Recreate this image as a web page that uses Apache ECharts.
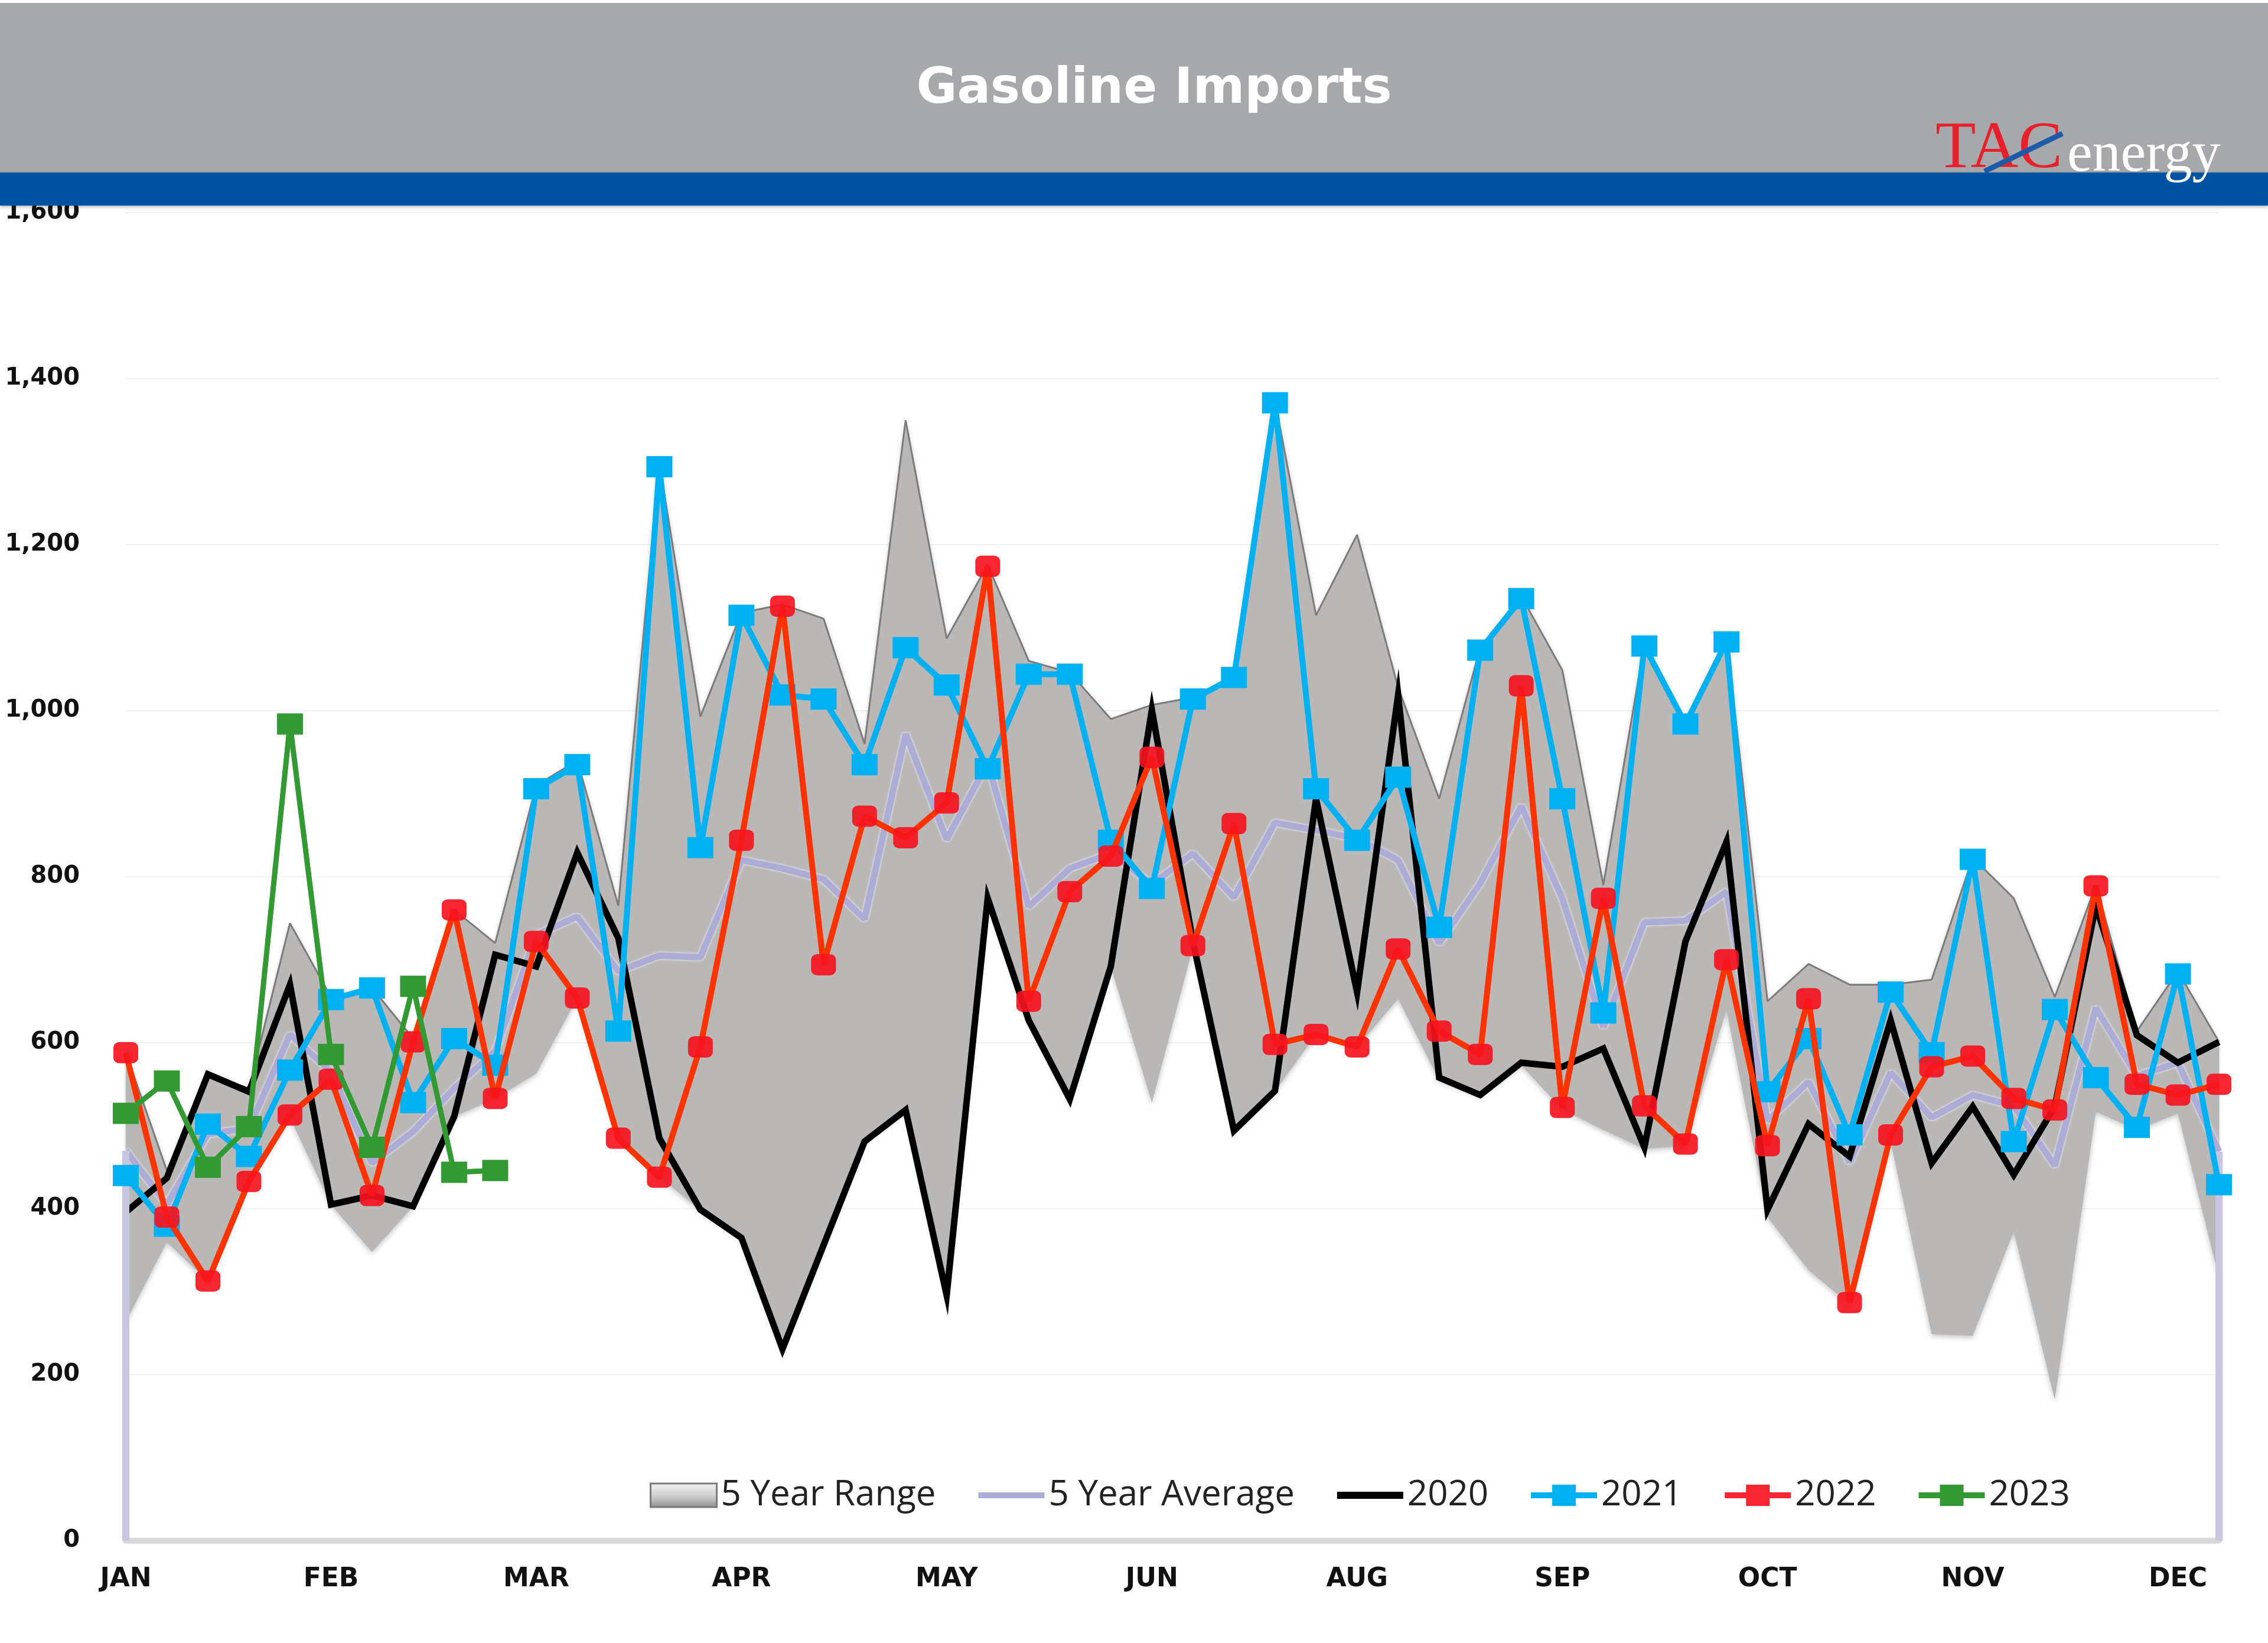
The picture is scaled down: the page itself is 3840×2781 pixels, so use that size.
<!DOCTYPE html>
<html>
<head>
<meta charset="utf-8">
<script src="https://cdn.jsdelivr.net/npm/echarts@6/dist/echarts.min.js"></script>
<style>html,body{margin:0;padding:0;background:#fff}#c{width:3840px;height:2781px}</style>
</head>
<body>
<div id="c"></div>
<script>
// ---- data (weekly, thousand b/d) ----
const monthTicks = ['JAN','FEB','MAR','APR','MAY','JUN','AUG','SEP','OCT','NOV','DEC'];
const weeks = Array.from({length: 52}, (_, i) => i + 1);
const yTicks = [0, 200, 400, 600, 800, 1000, 1200, 1400, 1600];

const range5Min = [264,360,313,433,510,405,348,403,511,533,
  563,654,485,438,399,365,231,356,481,519,
  296,774,627,532,692,528,715,494,542,610,
  595,653,555,537,573,520,495,472,476,640,
  390,326,285,481,249,247,373,170,517,495,
  515,317];
const range5Max = [588,446,562,545,744,655,666,605,760,720,
  910,940,765,1298,993,1118,1128,1111,960,1350,
  1087,1176,1060,1046,990,1007,1016,1042,1373,1115,
  1212,1028,894,1076,1138,1049,790,1080,988,1088,
  650,695,670,670,676,823,774,655,790,614,
  686,601];
const avg5 = [470,405,490,497,610,565,455,493,545,590,
  730,752,686,705,703,820,810,797,749,972,
  845,937,764,810,828,791,828,775,865,856,
  846,820,720,792,885,774,619,745,747,782,
  506,553,456,564,510,537,524,452,642,560,
  576,469];
const y2020 = [396,437,562,541,670,405,416,403,511,706,
  692,829,726,485,399,365,231,356,481,519,
  296,774,627,532,692,1001,722,494,542,894,
  661,1019,558,537,576,571,593,474,722,842,
  399,502,463,627,455,523,441,523,765,609,
  576,601];
const y2021 = [440,379,502,463,567,652,666,528,605,573,
  906,935,614,1294,835,1115,1019,1014,935,1076,
  1031,930,1044,1044,844,786,1014,1040,1371,906,
  844,920,739,1073,1135,894,636,1078,984,1083,
  541,605,489,661,588,821,481,640,558,498,
  683,429];
const y2022 = [588,390,313,433,513,556,416,601,760,533,
  722,654,485,438,595,844,1126,694,873,847,
  889,1174,650,782,825,944,717,864,598,610,
  595,713,614,586,1030,522,774,524,478,700,
  476,653,287,489,571,584,533,519,789,550,
  537,550];
const y2023 = [515,554,450,499,984,586,474,668,444,446];

// ---- chart ----
const chart = echarts.init(document.getElementById('c'), null, {renderer: 'canvas', width: 3840, height: 2781});
const rangeSpan = range5Max.map((v, i) => v - range5Min[i]);
const lastIdx = weeks.length - 1;

// legend icon shapes (112 x 40 box, tiny corner dots fix the bounding box)
const boxDots = 'M0 0h0.3v0.3h-0.3z M111.7 39.7h0.3v0.3h-0.3z ';
const iconLine = w => 'path://' + boxDots + 'M0 ' + (20 - w / 2) + 'h112v' + w + 'h-112z';
const iconMarker = 'path://' + boxDots + 'M0 15h36v-13h40v13h36v10h-36v13h-40v-13h-36z';

const option = {
  backgroundColor: '#ffffff',
  animation: false,
  grid: {left: 213, right: 83, top: 360, bottom: 173},
  xAxis: {
    type: 'category', data: weeks, boundaryGap: false,
    axisLine: {show: true, lineStyle: {color: '#d9d9d9', width: 10}},
    axisTick: {show: false},
    splitLine: {show: false},
    axisLabel: {
      interval: 4, margin: 44,
      formatter: (v, i) => monthTicks[i / 5] || '',
      fontFamily: 'DejaVu Sans', fontWeight: 'bold', fontSize: 44, color: '#111'
    }
  },
  yAxis: {
    type: 'value', min: yTicks[0], max: yTicks[yTicks.length - 1], interval: 200,
    axisLine: {show: false}, axisTick: {show: false},
    splitLine: {lineStyle: {color: '#f1f1f1', width: 2}},
    axisLabel: {
      margin: 78, formatter: v => v.toLocaleString('en-US'),
      fontFamily: 'DejaVu Sans', fontWeight: 'bold', fontSize: 40, color: '#111'
    }
  },
  legend: {
    left: 1095, top: 2496, orient: 'horizontal',
    itemWidth: 112, itemHeight: 40, itemGap: 72,
    textStyle: {fontFamily: 'Open Sans', fontSize: 60, color: '#222', padding: [0, 0, 0, 2]},
    data: [
      {name: '5 Year Range', icon: 'rect', itemStyle: {
        color: new echarts.graphic.LinearGradient(0, 0, 0, 1, [
          {offset: 0, color: '#f4f4f4'}, {offset: 0.5, color: '#d0d0d0'}, {offset: 1, color: '#8e8e8e'}]),
        borderColor: '#7a7a7a', borderWidth: 3}},
      {name: '5 Year Average', icon: iconLine(10)},
      {name: '2020', icon: iconLine(12)},
      {name: '2021', icon: iconMarker},
      {name: '2022', icon: iconMarker},
      {name: '2023', icon: iconMarker}
    ]
  },
  series: [
    {name: 'base', type: 'line', stack: 'range', data: range5Min, symbol: 'none',
      lineStyle: {opacity: 0}, silent: true, z: 1},
    {name: '5 Year Range', type: 'line', stack: 'range', data: rangeSpan, symbol: 'none',
      lineStyle: {color: '#7d7a7a', width: 3},
      areaStyle: {color: '#bab7b7', opacity: 1, shadowColor: 'rgba(0,0,0,0.25)', shadowBlur: 10, shadowOffsetY: 3},
      itemStyle: {color: '#bab7b7'}, z: 2},
    {name: '5 Year Average', type: 'line', data: avg5, symbol: 'none',
      lineStyle: {color: '#acacd6', width: 11, shadowColor: 'rgba(255,255,255,0.9)', shadowBlur: 4},
      itemStyle: {color: '#acacd6'}, z: 3,
      markLine: {silent: true, symbol: 'none', label: {show: false},
        lineStyle: {color: '#c6c6e0', width: 12, type: 'solid'},
        data: [
          [{coord: [0, 0]}, {coord: [0, avg5[0]]}],
          [{coord: [lastIdx, 0]}, {coord: [lastIdx, avg5[lastIdx]]}]
        ]}},
    {name: '2020', type: 'line', data: y2020, symbol: 'none',
      lineStyle: {color: '#000000', width: 11, join: 'miter'}, itemStyle: {color: '#000000'}, z: 4},
    {name: '2021', type: 'line', data: y2021, symbol: 'rect', symbolSize: [44, 36],
      lineStyle: {color: '#00b0f0', width: 10}, itemStyle: {color: '#00b0f0'}, z: 5},
    {name: '2022', type: 'line', data: y2022, symbol: 'roundRect', symbolSize: [42, 36],
      lineStyle: {color: '#ff3300', width: 10}, itemStyle: {color: '#f5141e', opacity: 0.92}, z: 6},
    {name: '2023', type: 'line', data: y2023, symbol: 'rect', symbolSize: [44, 36],
      lineStyle: {color: '#339933', width: 9}, itemStyle: {color: '#339933'}, z: 7}
  ],
  graphic: [
    {type: 'rect', z: 100, shape: {x: 0, y: 5, width: 3840, height: 287}, style: {fill: '#a7a8ac'}},
    {type: 'rect', z: 100, shape: {x: 0, y: 292, width: 3840, height: 56},
      style: {fill: '#0052a2', shadowColor: 'rgba(0,0,0,0.3)', shadowBlur: 6, shadowOffsetY: 2}},
    {type: 'text', z: 101, x: 1954, y: 152, style: {
      text: 'Gasoline Imports', font: 'bold 84px "DejaVu Sans", sans-serif',
      fill: '#ffffff', align: 'center', verticalAlign: 'middle',
      shadowColor: 'rgba(40,40,40,0.85)', shadowBlur: 6, shadowOffsetY: 6}},
    {type: 'text', z: 101, x: 3277, y: 254, style: {
      text: 'TAC', font: '112px "Liberation Serif", serif', fill: '#e8202a',
      align: 'left', verticalAlign: 'middle'}},
    {type: 'line', z: 102, shape: {x1: 3360, y1: 290, x2: 3492, y2: 226},
      style: {stroke: '#1d5aa8', lineWidth: 9}},
    {type: 'text', z: 101, x: 3500, y: 264, style: {
      text: 'energy', font: '96px "Liberation Serif", serif', fill: '#ffffff',
      align: 'left', verticalAlign: 'middle',
      shadowColor: 'rgba(0,0,0,0.35)', shadowBlur: 3, shadowOffsetY: 2}}
  ]
};
chart.setOption(option);
</script>
</body>
</html>
